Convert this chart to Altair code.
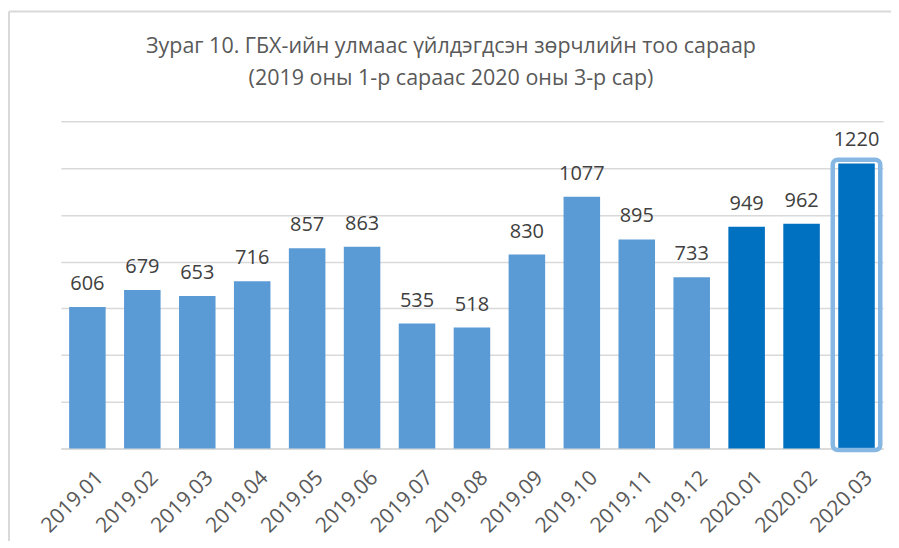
import altair as alt
import pandas as pd

months = ["2019.01", "2019.02", "2019.03", "2019.04", "2019.05", "2019.06", "2019.07",
          "2019.08", "2019.09", "2019.10", "2019.11", "2019.12", "2020.01", "2020.02", "2020.03"]
values = [606, 679, 653, 716, 857, 863, 535, 518, 830, 1077, 895, 733, 949, 962, 1220]
groups = ["2019"] * 12 + ["2020"] * 3
highlight = [0] * 14 + [1]
title_lines = ["Зураг 10. ГБХ-ийн улмаас үйлдэгдсэн зөрчлийн тоо сараар",
               "(2019 оны 1-р сараас 2020 оны 3-р сар)"]

df = pd.DataFrame({"month": months, "value": values, "year": groups, "hl": highlight})
one = pd.DataFrame({"k": [0]})

FONT = "Open Sans"
xenc = alt.X("month:N", sort=months, title=None,
             scale=alt.Scale(paddingInner=0.335, paddingOuter=0.15),
             axis=alt.Axis(labelAngle=-45, labelFontSize=21, labelColor="#595959",
                           labelFont=FONT, domainColor="#d9d9d9", domainWidth=1.5,
                           ticks=False, labelPadding=18, labelOffset=5))
yscale = alt.Scale(domain=[0, 1400])
yaxis = alt.Axis(values=[0, 200, 400, 600, 800, 1000, 1200, 1400], labels=False, ticks=False,
                 domain=False, grid=True, gridColor="#d9d9d9", gridWidth=1.5, title=None)

base = alt.Chart(df)

bars = base.mark_bar().encode(
    x=xenc,
    y=alt.Y("value:Q", scale=yscale, axis=yaxis),
    color=alt.Color("year:N", scale=alt.Scale(domain=["2019", "2020"], range=["#5B9BD5", "#0070C0"]),
                    legend=None),
)

hl = base.transform_filter("datum.hl == 1").transform_calculate(
    top="datum.value + 16", bot="-6"
).mark_bar(filled=False, stroke="#86b8e3", strokeWidth=4.5, cornerRadius=5,
           width={"band": 1.3}).encode(
    x=alt.X("month:N", sort=months),
    y=alt.Y("top:Q", scale=yscale),
    y2="bot:Q",
)

labels = base.mark_text(dy=-23, fontSize=20, color="#404040", font=FONT).encode(
    x=alt.X("month:N", sort=months),
    y=alt.Y("value:Q", scale=yscale),
    text="value:Q",
)

frame_top = alt.Chart(one).mark_rule(color="#d9d9d9", strokeWidth=2).encode(
    x=alt.value(-52), x2=alt.value(860), y=alt.value(-110))
frame_left = alt.Chart(one).mark_rule(color="#d9d9d9", strokeWidth=2).encode(
    x=alt.value(-52), y=alt.value(-110), y2=alt.value(430))

t1 = alt.Chart(one).mark_text(fontSize=21.5, font=FONT, color="#595959", baseline="middle").encode(
    x=alt.value(391), y=alt.value(-75), text=alt.value(title_lines[0]))
t2 = alt.Chart(one).mark_text(fontSize=21.5, font=FONT, color="#595959", baseline="middle").encode(
    x=alt.value(391), y=alt.value(-42), text=alt.value(title_lines[1]))

chart = alt.layer(bars, hl, labels, frame_top, frame_left, t1, t2).properties(
    width=824, height=328,
    autosize=alt.AutoSizeParams(type="none"),
    padding={"left": 53, "top": 113, "right": 8, "bottom": 92},
).configure_view(stroke=None)

chart.save("out.html", embed_options={"renderer": "svg", "actions": False})
